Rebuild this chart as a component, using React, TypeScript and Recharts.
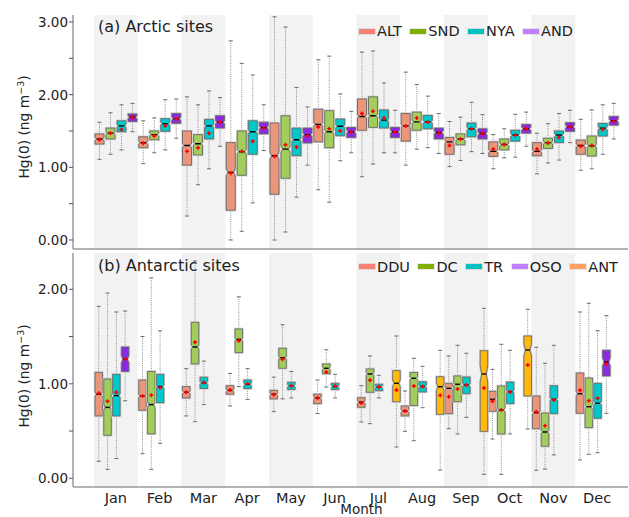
import React from 'react'
import { ComposedChart, Bar, XAxis, YAxis, ReferenceArea, Legend } from 'recharts'

const months = ['Jan', 'Feb', 'Mar', 'Apr', 'May', 'Jun', 'Jul', 'Aug', 'Sep', 'Oct', 'Nov', 'Dec']
const shadedMonths = ['Jan', 'Mar', 'May', 'Jul', 'Sep', 'Nov']

const arcticTicks = [0, 0.5, 1, 1.5, 2, 2.5, 3]
const antarcticTicks = [0, 0.5, 1, 1.5, 2]

// each month: [whisker low, q1, median, q3, whisker high, mean]
type Stat = number[] | null

const ALT: Stat[] = [
  [1.11, 1.32, 1.39, 1.46, 1.62, 1.38],
  [1.05, 1.27, 1.34, 1.42, 1.64, 1.33],
  [0.33, 1.03, 1.3, 1.5, 1.97, 1.22],
  [0.0, 0.41, 0.93, 1.34, 2.74, 0.92],
  [0.0, 0.63, 1.16, 1.61, 3.07, 1.15],
  [0.69, 1.35, 1.59, 1.8, 2.48, 1.555],
  [0.87, 1.51, 1.7, 1.94, 2.585, 1.74],
  [1.03, 1.36, 1.57, 1.74, 2.31, 1.57],
  [1.01, 1.18, 1.35, 1.41, 1.63, 1.3],
  [0.98, 1.15, 1.22, 1.35, 1.45, 1.25],
  [0.91, 1.16, 1.22, 1.34, 1.47, 1.25],
  [0.96, 1.18, 1.3, 1.375, 1.66, 1.29],
]
const SND: Stat[] = [
  [1.18, 1.39, 1.47, 1.54, 1.75, 1.47],
  [1.2, 1.38, 1.45, 1.5, 1.68, 1.43],
  [0.76, 1.17, 1.325, 1.45, 1.86, 1.27],
  [0.12, 0.89, 1.215, 1.5, 2.43, 1.22],
  [0.11, 0.85, 1.25, 1.71, 2.93, 1.31],
  [0.52, 1.27, 1.49, 1.78, 2.53, 1.53],
  [1.045, 1.55, 1.71, 1.97, 2.6, 1.77],
  [1.25, 1.51, 1.625, 1.76, 2.14, 1.68],
  [1.095, 1.31, 1.39, 1.46, 1.69, 1.39],
  [1.13, 1.24, 1.315, 1.39, 1.53, 1.315],
  [1.06, 1.26, 1.34, 1.4, 1.6, 1.335],
  [0.98, 1.155, 1.295, 1.43, 1.79, 1.3],
]
const NYA: Stat[] = [
  [1.24, 1.49, 1.57, 1.64, 1.86, 1.52],
  [1.24, 1.495, 1.6, 1.67, 1.93, 1.57],
  [0.98, 1.39, 1.57, 1.66, 2.05, 1.47],
  [0.51, 1.18, 1.49, 1.64, 2.27, 1.36],
  [0.59, 1.16, 1.38, 1.54, 2.1, 1.28],
  [1.09, 1.435, 1.565, 1.665, 2.01, 1.5],
  [1.2, 1.54, 1.65, 1.79, 2.16, 1.68],
  [1.27, 1.53, 1.625, 1.715, 1.98, 1.62],
  [1.215, 1.42, 1.53, 1.61, 1.895, 1.53],
  [1.14, 1.36, 1.445, 1.51, 1.73, 1.44],
  [1.1, 1.34, 1.445, 1.5, 1.74, 1.41],
  [1.18, 1.43, 1.54, 1.605, 1.86, 1.52],
]
const AND: Stat[] = [
  [1.49, 1.63, 1.69, 1.735, 1.88, 1.69],
  [1.4, 1.605, 1.67, 1.74, 1.94, 1.67],
  [1.29, 1.54, 1.62, 1.71, 1.96, 1.62],
  [1.23, 1.46, 1.545, 1.62, 1.86, 1.54],
  [1.03, 1.335, 1.45, 1.54, 1.83, 1.43],
  [1.2, 1.41, 1.49, 1.55, 1.77, 1.485],
  [1.2, 1.41, 1.49, 1.55, 1.785, 1.485],
  [1.19, 1.39, 1.48, 1.54, 1.74, 1.47],
  [1.19, 1.39, 1.465, 1.53, 1.725, 1.465],
  [1.29, 1.47, 1.53, 1.59, 1.76, 1.53],
  [1.34, 1.495, 1.56, 1.615, 1.785, 1.555],
  [1.39, 1.58, 1.64, 1.7, 1.88, 1.635],
]

const DDU: Stat[] = [
  [0.18, 0.66, 0.89, 1.12, 1.82, 0.9],
  [0.26, 0.72, 0.87, 1.04, 1.5, 0.87],
  [0.66, 0.85, 0.91, 0.97, 1.16, 0.91],
  [0.765, 0.89, 0.93, 0.98, 1.11, 0.935],
  [0.705, 0.84, 0.89, 0.93, 1.07, 0.885],
  [0.685, 0.79, 0.85, 0.89, 1.04, 0.85],
  [0.596, 0.751, 0.807, 0.853, 0.98, 0.797],
  [0.497, 0.66, 0.712, 0.765, 0.924, 0.712],
  [0.525, 0.684, 0.952, 1.005, 1.294, 0.864],
  [0.416, 0.709, 0.836, 0.92, 1.153, 0.815],
  [0.085, 0.525, 0.694, 0.871, 1.386, 0.705],
  [0.194, 0.688, 0.895, 1.114, 1.76, 0.931],
]
const DC: Stat[] = [
  [0.095, 0.455, 0.75, 1.05, 1.96, 0.815],
  [0.095, 0.47, 0.78, 1.13, 2.12, 0.88],
  [0.6, 1.21, 1.39, 1.65, 2.3, 1.44],
  [0.97, 1.33, 1.47, 1.58, 1.92, 1.455],
  [0.84, 1.164, 1.276, 1.376, 1.625, 1.26],
  [0.966, 1.107, 1.164, 1.21, 1.36, 1.125],
  [0.578, 0.91, 1.104, 1.157, 1.294, 1.037],
  [0.398, 0.77, 1.058, 1.12, 1.27, 0.977],
  [0.469, 0.811, 0.995, 1.083, 1.407, 0.945],
  [0.042, 0.469, 0.723, 0.977, 1.418, 0.723],
  [0.098, 0.339, 0.49, 0.691, 1.217, 0.557],
  [0.254, 0.536, 0.758, 1.061, 1.852, 0.821],
]
const TR: Stat[] = [
  [0.21, 0.66, 0.875, 1.1, 1.76, 0.91],
  [0.37, 0.8, 0.97, 1.1, 1.56, 0.96],
  [0.78, 0.95, 1.01, 1.07, 1.24, 1.015],
  [0.835, 0.95, 0.995, 1.04, 1.16, 1.0],
  [0.85, 0.94, 0.98, 1.016, 1.13, 0.98],
  [0.85, 0.94, 0.97, 1.005, 1.1, 0.977],
  [0.85, 0.927, 0.966, 0.995, 1.09, 0.966],
  [0.747, 0.913, 0.973, 1.022, 1.185, 0.97],
  [0.645, 0.895, 0.987, 1.072, 1.323, 0.987],
  [0.469, 0.79, 0.917, 1.019, 1.354, 0.913],
  [0.247, 0.684, 0.836, 0.98, 1.407, 0.829],
  [0.271, 0.635, 0.794, 1.005, 1.562, 0.847],
]
const OSO: Stat[] = [
  [0.82, 1.13, 1.26, 1.39, 1.77, 1.26],
  null, null, null, null, null, null, null, null, null, null,
  [0.688, 1.083, 1.231, 1.355, 1.721, 1.213],
]
const ANT: Stat[] = [
  null, null, null, null, null, null,
  [0.331, 0.81, 1.005, 1.139, 1.506, 0.934],
  [0.088, 0.677, 0.969, 1.075, 1.354, 0.878],
  [0.042, 0.497, 1.104, 1.35, 1.799, 0.956],
  [0.522, 0.871, 1.358, 1.506, 1.788, 1.199],
  null, null,
]

type Site = { key: string; data: Stat[]; fill: string; swatch: string; notch: number }

const arcticSites: Site[] = [
  { key: 'ALT', data: ALT, fill: '#e9967a', swatch: '#fa8072', notch: 0.05 },
  { key: 'SND', data: SND, fill: '#a2cd5a', swatch: '#7fb000', notch: 0.05 },
  { key: 'NYA', data: NYA, fill: '#00c9cc', swatch: '#00c0c0', notch: 0.05 },
  { key: 'AND', data: AND, fill: '#8a2be2', swatch: '#c080ff', notch: 0.05 },
]
const antarcticSites: Site[] = [
  { key: 'DDU', data: DDU, fill: '#e9967a', swatch: '#fa8072', notch: 0.05 },
  { key: 'DC', data: DC, fill: '#a2cd5a', swatch: '#7fb000', notch: 0.05 },
  { key: 'TR', data: TR, fill: '#00c9cc', swatch: '#00c0c0', notch: 0.05 },
  { key: 'OSO', data: OSO, fill: '#8a2be2', swatch: '#c080ff', notch: 0.15 },
  { key: 'ANT', data: ANT, fill: '#ffb90f', swatch: '#ffa060', notch: 0.1 },
]

const buildRows = (sites: Site[]) =>
  months.map((m, i) => {
    const row: any = { month: m }
    sites.forEach((s) => (row[s.key] = s.data[i]))
    return row
  })

const arcticRows = buildRows(arcticSites)
const antarcticRows = buildRows(antarcticSites)

const FONT = 'DejaVu Sans, sans-serif'
const frame = { stroke: '#9a9a9a', strokeWidth: 1.5 }

function boxShape(site: Site) {
  return (props: any) => {
    const { x, y, width, height, payload } = props
    const s = payload ? payload[site.key] : null
    if (!s || !width || !isFinite(y) || !isFinite(height)) return <g />
    const [lo, q1, med, q3, hi, mean] = s
    const top = height < 0 ? y + height : y
    const h = Math.abs(height)
    const ppu = h / (q3 - q1)
    const py = (v: number) => top + (q3 - v) * ppu
    const cx = x + width / 2
    const xl = x
    const xr = x + width
    const ind = width * 0.2
    const ym = py(med)
    const nh = Math.min(Math.max(1.5, h * site.notch), ym - py(q3), py(q1) - ym)
    const pts = [
      [xl, py(q3)], [xr, py(q3)], [xr, ym - nh], [xr - ind, ym], [xr, ym + nh],
      [xr, py(q1)], [xl, py(q1)], [xl, ym + nh], [xl + ind, ym], [xl, ym - nh],
    ]
      .map((p) => p.join(','))
      .join(' ')
    const my = py(mean)
    return (
      <g>
        <line x1={cx} x2={cx} y1={py(hi)} y2={py(q3)} stroke="#8c8c8c" strokeDasharray="1 1.2" />
        <line x1={cx} x2={cx} y1={py(q1)} y2={py(lo)} stroke="#8c8c8c" strokeDasharray="1 1.2" />
        <line x1={cx - 2} x2={cx + 2} y1={py(hi)} y2={py(hi)} stroke="#6a6a6a" />
        <line x1={cx - 2} x2={cx + 2} y1={py(lo)} y2={py(lo)} stroke="#6a6a6a" />
        <polygon points={pts} fill="none" stroke="#d0d0d0" strokeWidth={2.4} />
        <polygon points={pts} fill={site.fill} stroke="#6a6a6a" strokeWidth={0.9} />
        <line x1={xl + ind} x2={xr - ind} y1={ym} y2={ym} stroke="#000" strokeWidth={1.4} />
        <path d={`M${cx - 2},${my}H${cx + 2}M${cx},${my - 2}V${my + 2}`} stroke="#ff0000" strokeWidth={1.4} />
        <circle cx={cx} cy={my} r={1.2} fill="#ff0000" />
      </g>
    )
  }
}

const YTick = (props: any) => {
  const { x, y, payload } = props
  const v = payload.value
  if (Math.abs(v - Math.round(v)) > 1e-6) return <g />
  return (
    <text x={x + 1} y={y} dy="0.36em" textAnchor="end" fontSize={13.5} fontFamily={FONT} fill="#222">
      {v.toFixed(2)}
    </text>
  )
}

const MonthTick = (props: any) => {
  const { x, y, payload } = props
  return (
    <text x={x} y={y + 15.5} textAnchor="middle" fontSize={14.5} fontFamily={FONT} fill="#222">
      {payload.value}
    </text>
  )
}

const yLabel = (shift: number) => (props: any) => {
  const vb = props.viewBox
  const cx = vb.x + 29
  const cy = vb.y + vb.height / 2 + shift
  return (
    <text x={cx} y={cy} transform={`rotate(-90 ${cx} ${cy})`} textAnchor="middle" fontSize={13.8} fontFamily={FONT} fill="#222">
      Hg(0) (ng m<tspan dy={-5} fontSize={9.5}>−3</tspan>
      <tspan dy={5}>)</tspan>
    </text>
  )
}

const monthLabel = (props: any) => {
  const vb = props.viewBox
  return (
    <text x={vb.x + vb.width / 2 + 11} y={vb.y + 26.5} textAnchor="middle" fontSize={13.5} fontFamily={FONT} fill="#222">
      Month
    </text>
  )
}

function LegendRow({ sites }: { sites: Site[] }) {
  return (
    <div style={{ display: 'flex', alignItems: 'center', fontFamily: FONT, fontSize: 14.5, lineHeight: '16px', color: '#222', whiteSpace: 'nowrap' }}>
      {sites.map((s) => (
        <div key={s.key} style={{ display: 'flex', alignItems: 'center', marginRight: 8.5 }}>
          <span style={{ display: 'inline-block', width: 16, height: 5, background: s.swatch, boxShadow: '0 0 0 0.6px rgba(0,0,0,0.15)', marginRight: 2 }} />
          <span>{s.key}</span>
        </div>
      ))}
    </div>
  )
}

function Panel(props: {
  rows: any[]
  sites: Site[]
  height: number
  marginTop: number
  xHeight: number
  domain: [number, number]
  ticks: number[]
  barSize: number
  barGap: number
  legendTop: number
  labelShift: number
  showMonths: boolean
}) {
  const { rows, sites, height, marginTop, xHeight, domain, ticks, barSize, barGap, legendTop, labelShift, showMonths } = props
  return (
    <ComposedChart width={629} height={height} data={rows} margin={{ top: marginTop, right: 1, bottom: 0, left: 0 }} barGap={barGap}>
      <XAxis
        dataKey="month"
        height={xHeight}
        padding={{ left: 21, right: 9 }}
        axisLine={frame}
        tickLine={false}
        tickSize={0}
        tickMargin={0}
        tick={showMonths ? <MonthTick /> : false}
        interval={0}
        label={showMonths ? monthLabel : undefined}
      />
      <XAxis xAxisId="top" dataKey="month" orientation="top" height={0} axisLine={frame} tickLine={false} tick={false} />
      <YAxis
        type="number"
        width={73}
        domain={domain}
        allowDataOverflow
        ticks={ticks}
        interval={0}
        tick={<YTick />}
        tickSize={4}
        tickLine={{ stroke: '#555' }}
        axisLine={frame}
        label={yLabel(labelShift)}
      />
      <YAxis yAxisId="right" orientation="right" width={0} domain={[0, 1]} axisLine={frame} tickLine={false} tick={false} />
      {shadedMonths.map((m) => (
        <ReferenceArea key={m} x1={m} x2={m} fill="#f2f2f2" fillOpacity={1} stroke="none" ifOverflow="visible" />
      ))}
      <Legend
        layout="horizontal"
        align="center"
        verticalAlign="middle"
        wrapperStyle={{ left: 359, top: legendTop, width: 'auto', height: 'auto' }}
        content={() => <LegendRow sites={sites} />}
      />
      {sites.map((s) => (
        <Bar
          key={s.key}
          dataKey={(row: any) => (row[s.key] ? [row[s.key][1], row[s.key][3]] : null)}
          name={s.key}
          barSize={barSize}
          fill={s.fill}
          shape={boxShape(s)}
          isAnimationActive={false}
        />
      ))}
    </ComposedChart>
  )
}

export default function App() {
  return (
    <div style={{ position: 'absolute', left: 0, top: 0, width: 629, height: 517, background: '#fff', fontFamily: FONT }}>
      <div style={{ position: 'absolute', left: 0, top: 0 }}>
        <Panel
          rows={arcticRows}
          sites={arcticSites}
          height={250}
          marginTop={15}
          xHeight={1}
          domain={[-0.124, 3.096]}
          ticks={arcticTicks}
          barSize={9}
          barGap={2}
          legendTop={23}
          labelShift={-5}
          showMonths={false}
        />
      </div>
      <div style={{ position: 'absolute', left: 0, top: 250 }}>
        <Panel
          rows={antarcticRows}
          sites={antarcticSites}
          height={267}
          marginTop={3}
          xHeight={30}
          domain={[-0.092, 2.384]}
          ticks={antarcticTicks}
          barSize={7.5}
          barGap={1.3}
          legendTop={8.8}
          labelShift={6}
          showMonths={true}
        />
      </div>
      <div style={{ position: 'absolute', left: 98, top: 18.8, fontSize: 16, lineHeight: '16px', color: '#222', whiteSpace: 'nowrap' }}>
        (a) Arctic sites
      </div>
      <div style={{ position: 'absolute', left: 98, top: 257.5, fontSize: 16, lineHeight: '16px', color: '#222', whiteSpace: 'nowrap' }}>
        (b) Antarctic sites
      </div>
    </div>
  )
}
